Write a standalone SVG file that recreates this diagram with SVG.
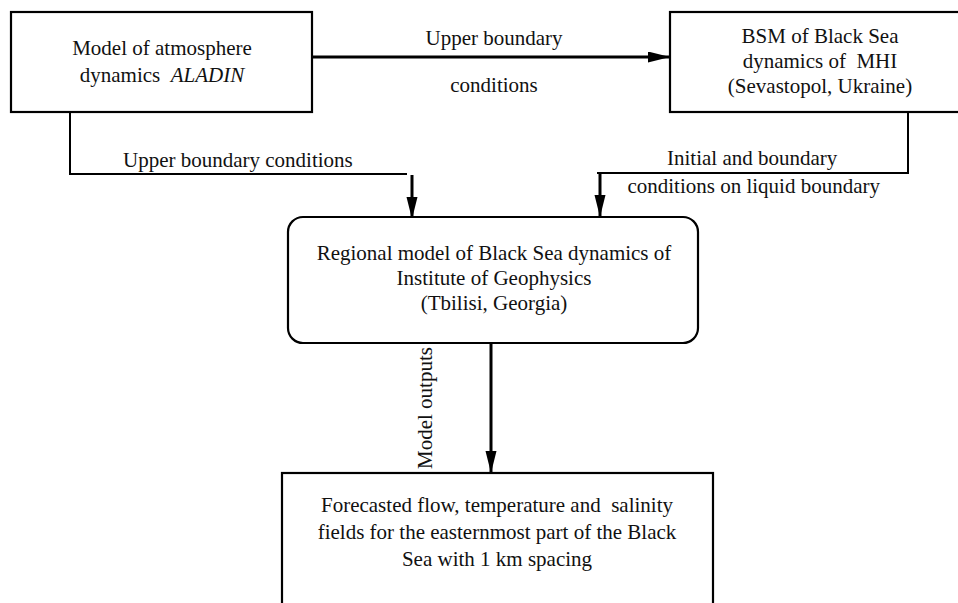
<svg xmlns="http://www.w3.org/2000/svg" width="958" height="603" viewBox="0 0 958 603">
<defs>
<style>
text { font-family: "Times New Roman", "Liberation Serif", Times, "DejaVu Serif", serif; font-size: 21px; fill: #111; white-space: pre; }
.c { text-anchor: middle; }
.box { fill: #fff; stroke: #000; stroke-width: 2.2; }
.ln { fill: none; stroke: #000; stroke-width: 2; }
.ar { fill: none; stroke: #000; stroke-width: 3; }
</style>
<marker id="ah" markerUnits="userSpaceOnUse" markerWidth="24" markerHeight="12" refX="22" refY="5.5" orient="auto">
<path d="M0,0 L22,5.5 L0,11 Z" fill="#000"/>
</marker>
</defs>
<rect width="958" height="603" fill="#fff"/>
<g id="connectors" font-family="Times New Roman, Liberation Serif, serif">
<line class="ar" x1="312" y1="57" x2="670" y2="57" marker-end="url(#ah)"/>
<polyline class="ln" points="70,112 70,174 407,174"/>
<line class="ar" x1="412" y1="175" x2="412" y2="219" marker-end="url(#ah)"/>
<polyline class="ln" points="908,112 908,173 597,173"/>
<line class="ar" x1="600" y1="173" x2="600" y2="217" marker-end="url(#ah)"/>
<line class="ar" x1="491" y1="343" x2="491" y2="473" marker-end="url(#ah)"/>
<text x="494" y="45" class="c">Upper boundary</text>
<text x="494" y="92" class="c">conditions</text>
<text x="123" y="167">Upper boundary conditions</text>
<text x="667" y="165">Initial and boundary</text>
<text x="880" y="193" text-anchor="end">conditions on liquid boundary</text>
<text transform="translate(432,408) rotate(-90)" class="c">Model outputs</text>
</g>
<g id="atmosphere">
<rect class="box" x="11" y="12" width="301" height="100"/>
<text x="162" y="55" class="c">Model of atmosphere</text>
<text x="162" y="82" class="c">dynamics  <tspan font-style="italic">ALADIN</tspan></text>
</g>
<g id="bsm">
<rect class="box" x="670" y="12" width="300" height="100"/>
<text x="820" y="43" class="c">BSM of Black Sea</text>
<text x="820" y="68" class="c">dynamics of  MHI</text>
<text x="820" y="93" class="c">(Sevastopol, Ukraine)</text>
</g>
<g id="regional">
<rect class="box" x="288" y="217" width="410" height="126" rx="15" ry="15"/>
<text x="494" y="260" class="c">Regional model of Black Sea dynamics of</text>
<text x="494" y="285" class="c">Institute of Geophysics</text>
<text x="494" y="310" class="c">(Tbilisi, Georgia)</text>
</g>
<g id="forecast">
<rect class="box" x="282" y="473" width="431" height="150"/>
<text x="497" y="512" class="c">Forecasted flow, temperature and  salinity</text>
<text x="497" y="539" class="c">fields for the easternmost part of the Black</text>
<text x="497" y="566" class="c">Sea with 1 km spacing</text>
</g>
</svg>
